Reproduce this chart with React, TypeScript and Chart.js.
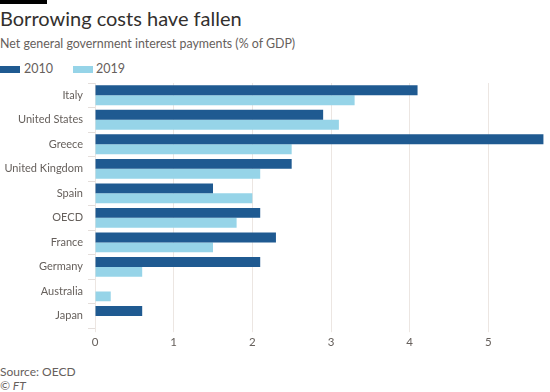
import React, { useEffect, useRef } from "react";
import { Chart, registerables } from "chart.js";

Chart.register(...registerables);

const categories = ["Italy", "United States", "Greece", "United Kingdom", "Spain", "OECD", "France", "Germany", "Australia", "Japan"];
const values2010 = [4.1, 2.9, 5.7, 2.5, 1.5, 2.1, 2.3, 2.1, null, 0.6];
const values2019 = [3.3, 3.1, 2.5, 2.1, 2.0, 1.8, 1.5, 0.6, 0.2, null];
const xTicks = [0, 1, 2, 3, 4, 5];

const DARK = "#1f5a91";
const LIGHT = "#96d4e8";
const FONT = "Lato, 'Noto Sans', sans-serif";
const TEXT = "#33302e";
const MUTED = "#66605c";

export default function App() {
  const ref = useRef<HTMLCanvasElement | null>(null);

  useEffect(() => {
    document.body.style.margin = "0";
    const ctx = ref.current!;
    const chart = new Chart(ctx, {
      type: "bar",
      data: {
        labels: categories,
        datasets: [
          { label: "2010", data: values2010 as any, backgroundColor: DARK, categoryPercentage: 0.81, barPercentage: 1.0 },
          { label: "2019", data: values2019 as any, backgroundColor: LIGHT, categoryPercentage: 0.81, barPercentage: 1.0 },
        ],
      },
      options: {
        indexAxis: "y",
        animation: false,
        responsive: false,
        maintainAspectRatio: false,
        layout: { padding: { top: 3, right: 5, left: 0, bottom: 0 } },
        plugins: { legend: { display: false }, tooltip: { enabled: false } },
        scales: {
          x: {
            min: 0,
            max: 5.72,
            afterBuildTicks: (scale: any) => {
              scale.ticks = xTicks.map((v) => ({ value: v }));
            },
            grid: { color: "#ece6e2", lineWidth: 1, drawTicks: true, tickLength: 4 },
            border: { display: false },
            ticks: { color: MUTED, font: { family: FONT, size: 11.5 }, padding: 3 },
          },
          y: {
            afterFit: (scale: any) => {
              scale.width = 95;
              scale.paddingTop = 0;
              scale.paddingBottom = 0;
            },
            grid: { drawOnChartArea: false, drawTicks: true, tickLength: 7, color: "#e4dedb" },
            border: { display: false },
            ticks: { color: MUTED, font: { family: FONT, size: 11 }, padding: 5 },
          },
        },
      },
    });
    return () => chart.destroy();
  }, []);

  return (
    <div style={{ position: "relative", width: 550, height: 392, background: "#fff", fontFamily: FONT, overflow: "hidden" }}>
      <div style={{ position: "absolute", left: 0, top: 0, width: 47, height: 4, background: "#000" }} />
      <div style={{ position: "absolute", left: 0, top: 6, fontSize: 20, color: TEXT, whiteSpace: "nowrap" }}>Borrowing costs have fallen</div>
      <div style={{ position: "absolute", left: 0, top: 36, fontSize: 12.4, color: MUTED, whiteSpace: "nowrap" }}>Net general government interest payments (% of GDP)</div>
      <div style={{ position: "absolute", left: 0, top: 66, width: 20, height: 7, background: DARK }} />
      <div style={{ position: "absolute", left: 24, top: 61, fontSize: 12.5, color: MUTED }}>2010</div>
      <div style={{ position: "absolute", left: 73, top: 66, width: 20, height: 7, background: LIGHT }} />
      <div style={{ position: "absolute", left: 96, top: 61, fontSize: 12.5, color: MUTED }}>2019</div>
      <canvas ref={ref} width={550} height={272} style={{ position: "absolute", left: 0, top: 80, width: 550, height: 272 }} />
      <div style={{ position: "absolute", left: 0, top: 364, fontSize: 12, color: MUTED }}>Source: OECD</div>
      <div style={{ position: "absolute", left: 0, top: 378, fontSize: 12, color: MUTED, fontStyle: "italic" }}>© FT</div>
    </div>
  );
}
